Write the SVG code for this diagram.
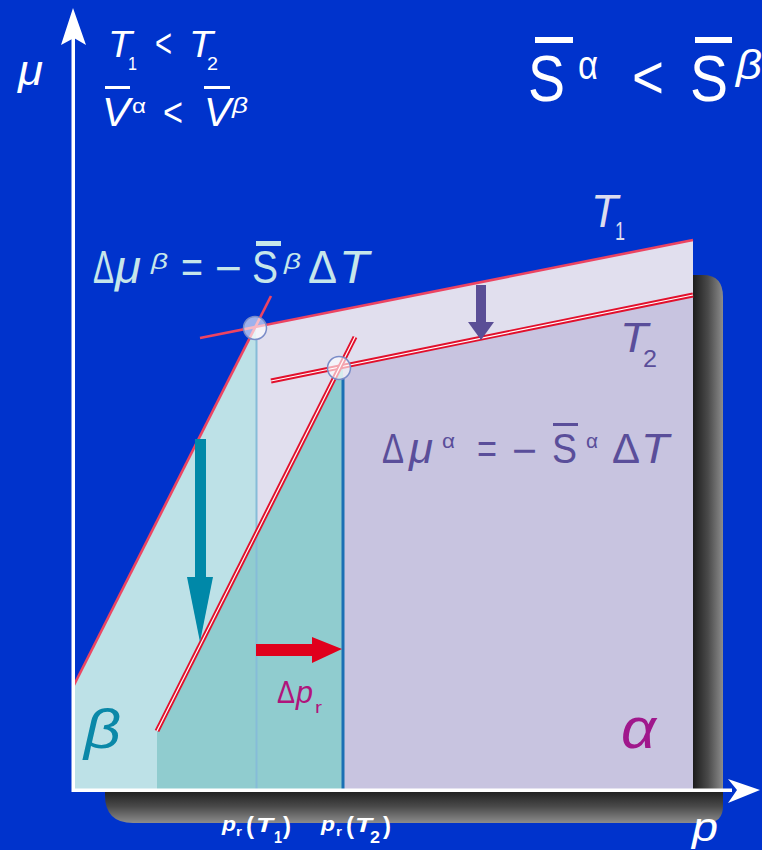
<svg xmlns="http://www.w3.org/2000/svg" width="762" height="850" viewBox="0 0 762 850">
<defs>
<style>
text{font-family:"Liberation Sans",Arial,sans-serif;}
.it{font-style:italic;}
.w{fill:#FFFFFF;}
.cy{fill:#C6E6EA;}
.pu{fill:#5A4E9A;}
.t1{stroke:#EC4462;stroke-width:2.6;fill:none;}
.t2r{stroke:#E2102C;stroke-width:5;fill:none;}
.t2w{stroke:#FFFFFF;stroke-width:1.2;fill:none;}
.circ{fill:#FFFFFF;fill-opacity:0.62;stroke:#7A8CC8;stroke-width:1.5;}
</style>
<linearGradient id="gR" x1="0" y1="0" x2="1" y2="0">
<stop offset="0" stop-color="#1C1C1C"/><stop offset="0.5" stop-color="#4A4A4A"/><stop offset="1" stop-color="#8C8C8C"/>
</linearGradient>
<linearGradient id="gB" x1="0" y1="0" x2="0" y2="1">
<stop offset="0" stop-color="#1C1C1C"/><stop offset="0.5" stop-color="#4A4A4A"/><stop offset="1" stop-color="#8C8C8C"/>
</linearGradient>
</defs>
<rect x="0" y="0" width="762" height="850" fill="#0033CC"/>

<g id="shadow">
<path d="M693,275 L703,275 Q723,275 723,297 L723,792 L693,792 Z" fill="url(#gR)"/>
<path d="M105,790 L723,790 L723,806 Q723,823 706,823 L133,823 Q105,823 105,795 Z" fill="url(#gB)"/>
</g>

<g id="regions">
<polygon id="alpha-T1-region" points="255,327 693,240 693,789 255,789" fill="#E1DFEE"/>
<polygon id="alpha-T2-region" points="340,368 693,294 693,789 343,789 343,368" fill="#C8C4E0"/>
<polygon id="beta-T1-region" points="74,685 255,327 256,327 256,789 74,789" fill="#BDE1E7"/>
<polygon id="beta-T2-region" points="157,731 339.5,368 343,368 343,789 157,789" fill="#90CCCF"/>
</g>

<g id="connectors">
<line x1="256.5" y1="338" x2="256.5" y2="789" stroke="#86BCD8" stroke-width="2"/>
<line x1="343" y1="378" x2="343" y2="789" stroke="#1A70B4" stroke-width="3"/>
<line class="t1" x1="200" y1="338" x2="693" y2="240"/>
<line class="t1" x1="74" y1="685" x2="271" y2="296"/>
<line class="t2r" x1="271" y1="381" x2="693" y2="295"/>
<line class="t2w" x1="271" y1="381" x2="693" y2="295"/>
<line class="t2r" x1="157" y1="731" x2="355" y2="337"/>
<line class="t2w" x1="157" y1="731" x2="355" y2="337"/>
<circle class="circ" cx="255" cy="328" r="11.5"/>
<circle class="circ" cx="339" cy="368" r="11.5"/>
<g id="arrow-alpha" fill="#5A4E96">
<rect x="476" y="285" width="10" height="38"/>
<polygon points="468,322 494,322 481,340"/>
</g>
<g id="arrow-beta" fill="#0088A8">
<rect x="195" y="439" width="11" height="139"/>
<polygon points="187,577 213,577 200,642"/>
</g>
<g id="arrow-p" fill="#E0001C">
<rect x="256" y="644" width="57" height="12"/>
<polygon points="312,637 312,663 342,649"/>
</g>
<g id="axes" fill="#FFFFFF">
<rect x="71.5" y="36" width="3.5" height="756"/>
<polygon points="73,8 86,45 74,38 61,45"/>
<rect x="72" y="788.5" width="660" height="3.5"/>
<polygon points="760,790 728,779 737,790 728,803"/>
</g>
</g>

<g id="label-mu"><text class="it w" x="18" y="85" font-size="42" textLength="25" lengthAdjust="spacingAndGlyphs">μ</text></g>

<g id="label-T1T2" class="w">
<text class="it" x="108" y="57" font-size="37" textLength="24" lengthAdjust="spacingAndGlyphs">T</text>
<text x="128" y="70" font-size="18" textLength="9" lengthAdjust="spacingAndGlyphs">1</text>
<text x="155" y="57" font-size="40" textLength="17" lengthAdjust="spacingAndGlyphs">&lt;</text>
<text class="it" x="189" y="57" font-size="37" textLength="24" lengthAdjust="spacingAndGlyphs">T</text>
<text x="207" y="70" font-size="18" textLength="11" lengthAdjust="spacingAndGlyphs">2</text>
</g>

<g id="label-V" class="w">
<text class="it" x="102" y="126" font-size="40" textLength="28" lengthAdjust="spacingAndGlyphs">V</text>
<rect x="105" y="86" width="25" height="3"/>
<text x="132" y="113" font-size="20" textLength="14" lengthAdjust="spacingAndGlyphs">α</text>
<text x="163" y="126" font-size="40" textLength="20" lengthAdjust="spacingAndGlyphs">&lt;</text>
<text class="it" x="204" y="126" font-size="40" textLength="27" lengthAdjust="spacingAndGlyphs">V</text>
<rect x="204" y="86" width="26" height="3"/>
<text class="it" x="232" y="113" font-size="22" textLength="16" lengthAdjust="spacingAndGlyphs">β</text>
</g>

<g id="label-S" class="w">
<text x="528" y="101" font-size="64" textLength="37" lengthAdjust="spacingAndGlyphs">S</text>
<rect x="535" y="37" width="38" height="6"/>
<text x="578" y="79" font-size="40" textLength="20" lengthAdjust="spacingAndGlyphs">α</text>
<text x="632" y="98" font-size="61" textLength="32" lengthAdjust="spacingAndGlyphs">&lt;</text>
<text x="690" y="101" font-size="64" textLength="38" lengthAdjust="spacingAndGlyphs">S</text>
<rect x="695" y="37" width="37" height="6"/>
<text class="it" x="736" y="79" font-size="40" textLength="26" lengthAdjust="spacingAndGlyphs">β</text>
</g>

<g id="formula-beta" class="cy">
<text x="93" y="283" font-size="46" textLength="21" lengthAdjust="spacingAndGlyphs">Δ</text>
<text class="it" x="115" y="283" font-size="46" textLength="26" lengthAdjust="spacingAndGlyphs">μ</text>
<text class="it" x="151" y="269" font-size="22" textLength="17" lengthAdjust="spacingAndGlyphs">β</text>
<text x="181" y="283" font-size="46" textLength="22" lengthAdjust="spacingAndGlyphs">=</text>
<text x="215" y="284" font-size="46" textLength="27" lengthAdjust="spacingAndGlyphs">−</text>
<text x="252" y="283" font-size="46" textLength="26" lengthAdjust="spacingAndGlyphs">S</text>
<rect x="256" y="241" width="25" height="5"/>
<text class="it" x="284" y="269" font-size="22" textLength="17" lengthAdjust="spacingAndGlyphs">β</text>
<text x="308" y="283" font-size="46" textLength="29" lengthAdjust="spacingAndGlyphs">Δ</text>
<text class="it" x="339" y="283" font-size="46" textLength="30" lengthAdjust="spacingAndGlyphs">T</text>
</g>

<g id="label-T1-line"><text class="it" x="591" y="227" font-size="46" fill="#DCDCEE" textLength="27" lengthAdjust="spacingAndGlyphs">T</text>
<text x="615" y="240" font-size="26" fill="#DCDCEE" textLength="10" lengthAdjust="spacingAndGlyphs">1</text></g>

<g id="label-T2-line" class="pu"><text class="it" x="620" y="352" font-size="42" textLength="28" lengthAdjust="spacingAndGlyphs">T</text>
<text x="643" y="367" font-size="24" textLength="14" lengthAdjust="spacingAndGlyphs">2</text></g>

<g id="formula-alpha" class="pu">
<text x="382" y="463" font-size="42" textLength="22" lengthAdjust="spacingAndGlyphs">Δ</text>
<text class="it" x="409" y="463" font-size="42" textLength="24" lengthAdjust="spacingAndGlyphs">μ</text>
<text x="442" y="448" font-size="20" textLength="13" lengthAdjust="spacingAndGlyphs">α</text>
<text x="477" y="463" font-size="42" textLength="20" lengthAdjust="spacingAndGlyphs">=</text>
<text x="512" y="465" font-size="42" textLength="25" lengthAdjust="spacingAndGlyphs">−</text>
<text x="552" y="463" font-size="42" textLength="25" lengthAdjust="spacingAndGlyphs">S</text>
<rect x="553" y="423" width="25" height="3"/>
<text x="586" y="448" font-size="20" textLength="12" lengthAdjust="spacingAndGlyphs">α</text>
<text x="612" y="463" font-size="42" textLength="28" lengthAdjust="spacingAndGlyphs">Δ</text>
<text class="it" x="641" y="463" font-size="42" textLength="28" lengthAdjust="spacingAndGlyphs">T</text>
</g>

<g id="label-dpr" fill="#B0147C">
<text x="277" y="703" font-size="32" textLength="18" lengthAdjust="spacingAndGlyphs">Δ</text>
<text class="it" x="296" y="703" font-size="32" textLength="17" lengthAdjust="spacingAndGlyphs">p</text>
<text x="315" y="713" font-size="16" textLength="7" lengthAdjust="spacingAndGlyphs">r</text>
</g>

<g id="label-beta"><text class="it" x="84" y="748" font-size="55" fill="#0A88A8" textLength="37" lengthAdjust="spacingAndGlyphs">β</text></g>
<g id="label-alpha"><text class="it" x="621" y="748" font-size="58" fill="#A0188C" textLength="35" lengthAdjust="spacingAndGlyphs">α</text></g>

<g id="label-prT1" class="w" font-weight="bold">
<text class="it" x="222" y="831" font-size="21" textLength="14" lengthAdjust="spacingAndGlyphs">p</text>
<text x="236" y="836" font-size="13" textLength="6" lengthAdjust="spacingAndGlyphs">r</text>
<text x="246" y="834" font-size="24" textLength="8" lengthAdjust="spacingAndGlyphs">(</text>
<text class="it" x="256" y="832" font-size="20" textLength="17" lengthAdjust="spacingAndGlyphs">T</text>
<text x="274" y="843" font-size="17" textLength="8" lengthAdjust="spacingAndGlyphs">1</text>
<text x="283" y="834" font-size="24" textLength="8" lengthAdjust="spacingAndGlyphs">)</text>
</g>
<g id="label-prT2" class="w" font-weight="bold">
<text class="it" x="321" y="831" font-size="21" textLength="14" lengthAdjust="spacingAndGlyphs">p</text>
<text x="336" y="836" font-size="13" textLength="6" lengthAdjust="spacingAndGlyphs">r</text>
<text x="346" y="834" font-size="24" textLength="8" lengthAdjust="spacingAndGlyphs">(</text>
<text class="it" x="355" y="832" font-size="20" textLength="17" lengthAdjust="spacingAndGlyphs">T</text>
<text x="370" y="843" font-size="17" textLength="10" lengthAdjust="spacingAndGlyphs">2</text>
<text x="383" y="834" font-size="24" textLength="8" lengthAdjust="spacingAndGlyphs">)</text>
</g>

<g id="label-p"><text class="it w" x="692" y="841" font-size="40" textLength="26" lengthAdjust="spacingAndGlyphs">p</text></g>
</svg>
